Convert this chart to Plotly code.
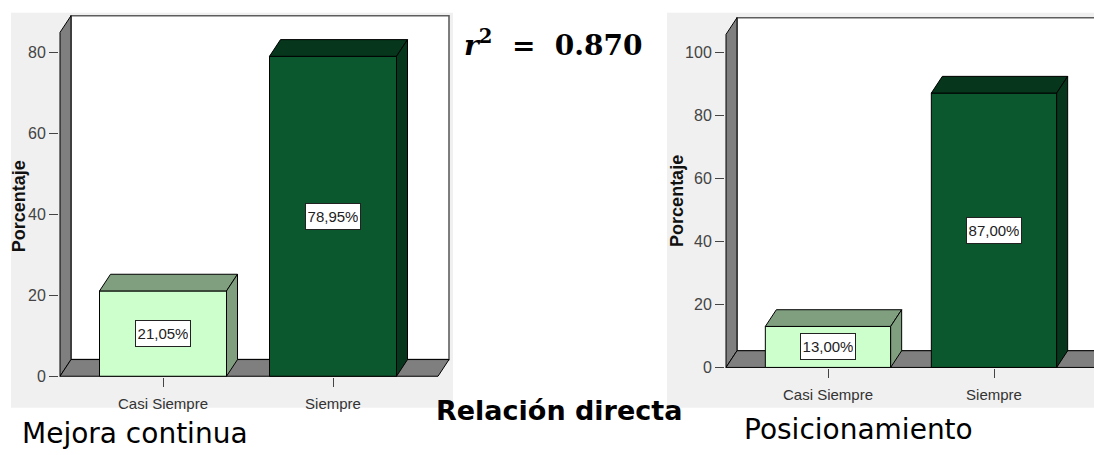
import plotly.graph_objects as go

# ---------------- data ----------------
categories = ["Casi Siempre", "Siempre"]
mejora_values = [21.05, 78.95]
posic_values = [13.00, 87.00]
left_ticks = [0, 20, 40, 60, 80]
right_ticks = [0, 20, 40, 60, 80, 100]
left_title = "Mejora continua"
right_title = "Posicionamiento"
middle_title = "Relación directa"
r2_value = 0.870

# ---------------- styles ----------------
W, H = 1094, 455
SANS = "Liberation Sans, Arial, sans-serif"
LIGHT_FRONT, LIGHT_SIDE = "#CCFFCC", "#7F9F7F"
DARK_FRONT, DARK_SIDE = "#0B582E", "#06361C"
WALL = "#7F7F7F"
PANEL = "#F0F0F0"

panels = {
    "left": dict(xa="x", ya="y", front_left=60, right_px=452, y0=383, top_px=13,
                 ppx=170.0, c0=163.0, ppy=4.125, dx=11, dy=17, wall_top=33,
                 back_right=449, bar_w=0.747, values=mejora_values, ticks=left_ticks,
                 panel=(11, 13, 453, 415)),
    "right": dict(xa="x2", ya="y2", front_left=726, right_px=W, y0=374, top_px=15,
                  ppx=166.0, c0=828.0, ppy=3.21, dx=11, dy=17, wall_top=35,
                  back_right=W + 40, bar_w=0.755, values=posic_values, ticks=right_ticks,
                  panel=(667, 13, W, 415)),
}

fig = go.Figure()
layout_axes = {}
annotations = []
shapes = []


def path_shape(xs, ys, fill, xa, ya, line="black", lw=1):
    d = "M " + " L ".join(f"{x},{y}" for x, y in zip(xs, ys)) + " Z"
    shapes.append(dict(type="path", path=d, xref=xa, yref=ya, fillcolor=fill,
                       line=dict(color=line, width=lw), layer="below"))


def poly(xs, ys, fill, xa, ya, line="black", lw=1):
    fig.add_trace(go.Scatter(x=xs + [xs[0]], y=ys + [ys[0]], mode="lines", fill="toself",
                             fillcolor=fill, line=dict(color=line, width=lw),
                             xaxis=xa, yaxis=ya, hoverinfo="skip", showlegend=False))


for key, p in panels.items():
    X = lambda px, p=p: (px - p["c0"]) / p["ppx"]
    Y = lambda py, p=p: (p["y0"] - py) / p["ppy"]
    ddx = p["dx"] / p["ppx"]
    ddy = p["dy"] / p["ppy"]
    dom_l, dom_r = p["front_left"] - 1, p["right_px"]
    dom_b, dom_t = p["y0"] + 1, p["top_px"]
    xr = [X(dom_l), X(dom_r)]
    yr = [Y(dom_b), Y(dom_t)]
    xL = X(p["front_left"])
    xBR = X(p["back_right"])
    xFR = xBR - ddx
    yTop = Y(dom_t + 3)
    yWallTop = Y(p["wall_top"])

    # background panel
    x0, y0, x1, y1 = p["panel"]
    shapes.append(dict(type="rect", xref="paper", yref="paper", x0=x0 / W, x1=x1 / W,
                       y0=1 - y1 / H, y1=1 - y0 / H, fillcolor=PANEL, line=dict(width=0),
                       layer="below"))

    # back wall, left wall, floor (drawn beneath the bars)
    path_shape([xL + ddx, xL + ddx, xBR, xBR], [ddy, yTop, yTop, ddy], "white",
               p["xa"], p["ya"], line="#5E5E5E", lw=1.6)
    path_shape([xL, xL, xL + ddx, xL + ddx], [0, yWallTop, yWallTop + ddy, ddy], WALL,
               p["xa"], p["ya"])
    path_shape([xL, xL + ddx, xBR, xFR], [0, ddy, ddy, 0], WALL, p["xa"], p["ya"])

    # bars: front faces
    vals = p["values"]
    fronts = [LIGHT_FRONT, DARK_FRONT]
    sides = [LIGHT_SIDE, DARK_SIDE]
    fig.add_trace(go.Bar(x=list(range(len(vals))), y=vals, width=p["bar_w"],
                         marker=dict(color=fronts, line=dict(color="black", width=1)),
                         xaxis=p["xa"], yaxis=p["ya"], hoverinfo="skip", showlegend=False))
    hw = p["bar_w"] / 2
    for i, v in enumerate(vals):
        # top face
        poly([i - hw, i - hw + ddx, i + hw + ddx, i + hw], [v, v + ddy, v + ddy, v],
             sides[i], p["xa"], p["ya"])
        # side face
        poly([i + hw, i + hw, i + hw + ddx, i + hw + ddx], [0, v, v + ddy, ddy],
             sides[i], p["xa"], p["ya"])
        annotations.append(dict(x=i, y=v / 2, xref=p["xa"], yref=p["ya"],
                                text=f"{v:.2f}".replace(".", ",") + "%", showarrow=False,
                                font=dict(family=SANS, size=15, color="#222"),
                                bgcolor="white", bordercolor="#222", borderwidth=1,
                                borderpad=2, width=50, height=21))

    axn = "" if key == "left" else "2"
    layout_axes["xaxis" + axn] = dict(domain=[dom_l / W, dom_r / W], range=xr,
                                      anchor=p["ya"], tickvals=list(range(len(categories))),
                                      ticktext=categories, ticks="outside", ticklen=9,
                                      tickcolor="#444", showgrid=False, zeroline=False,
                                      showline=False, fixedrange=True, ticklabelstandoff=4,
                                      tickfont=dict(family=SANS, size=15, color="#333"))
    layout_axes["yaxis" + axn] = dict(domain=[1 - dom_b / H, 1 - dom_t / H], range=yr,
                                      anchor=p["xa"], tickvals=p["ticks"], ticks="outside",
                                      ticklen=9, tickcolor="#444", showgrid=False,
                                      zeroline=False, showline=False, fixedrange=True,
                                      tickfont=dict(family=SANS, size=16, color="#444"))

# axis titles "Porcentaje"
for cx, cy in [(19, 210), (677.5, 205)]:
    annotations.append(dict(x=cx / W, y=1 - cy / H, xref="paper", yref="paper",
                            text="<b>Porcentaje</b>", textangle=-90, showarrow=False,
                            font=dict(family=SANS, size=18, color="#111"),
                            xanchor="center", yanchor="middle"))

# slide texts
annotations.append(dict(x=134.5 / W, y=1 - 441 / H, xref="paper", yref="paper",
                        text=left_title, showarrow=False,
                        font=dict(family="DejaVu Sans", size=28, color="black"),
                        xanchor="center", yanchor="middle"))
annotations.append(dict(x=858.5 / W, y=1 - 437 / H, xref="paper", yref="paper",
                        text=right_title, showarrow=False,
                        font=dict(family="DejaVu Sans", size=28, color="black"),
                        xanchor="center", yanchor="middle"))
annotations.append(dict(x=559 / W, y=1 - 418 / H, xref="paper", yref="paper",
                        text=f"<b>{middle_title}</b>", showarrow=False,
                        font=dict(family="DejaVu Sans", size=27, color="black"),
                        xanchor="center", yanchor="middle"))
annotations.append(dict(x=554 / W, y=1 - 44 / H, xref="paper", yref="paper",
                        text=f"<b><i>r</i><sup>2</sup>&nbsp; = &nbsp;{r2_value:.3f}</b>",
                        showarrow=False,
                        font=dict(family="DejaVu Serif", size=28, color="black"),
                        xanchor="center", yanchor="middle"))

fig.update_layout(width=W, height=H, autosize=False, margin=dict(l=0, r=0, t=0, b=0, pad=0),
                  paper_bgcolor="white", plot_bgcolor="rgba(0,0,0,0)", showlegend=False,
                  shapes=shapes, annotations=annotations, **layout_axes)

fig.write_html("out.html")
